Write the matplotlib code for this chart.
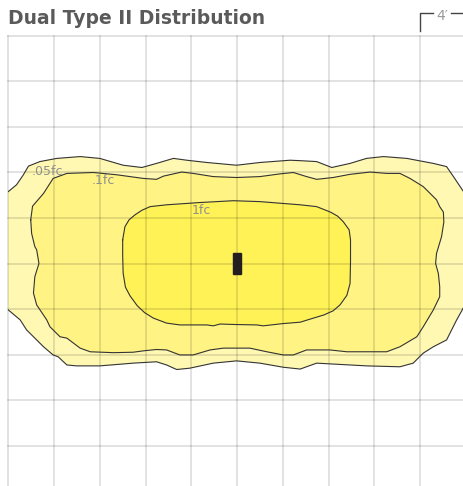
import matplotlib
matplotlib.use("Agg")
import matplotlib.pyplot as plt
from matplotlib.lines import Line2D
from matplotlib.patches import Rectangle

# contour outlines, in grid cells (1 cell = 4 ft), y measured downward from the top line
fc1_x = [2.50, 2.55, 2.64, 2.77, 2.92, 3.10, 3.46, 4.19, 4.92, 5.50, 6.38, 6.74, 7.04, 7.20,
         7.32, 7.45, 7.48, 7.48, 7.47, 7.40, 7.25, 7.10, 6.90, 6.67, 6.38, 6.01, 5.57, 5.43,
         4.92, 4.63, 4.48, 4.34, 3.75, 3.46, 3.17, 2.98, 2.82, 2.66, 2.56, 2.51, 2.50]
fc1_y = [4.48, 4.19, 4.04, 3.93, 3.83, 3.75, 3.71, 3.66, 3.62, 3.64, 3.71, 3.75, 3.87, 3.96,
         4.08, 4.26, 4.48, 4.97, 5.44, 5.70, 5.91, 6.04, 6.13, 6.20, 6.29, 6.32, 6.37, 6.35,
         6.34, 6.33, 6.37, 6.35, 6.35, 6.31, 6.20, 6.08, 5.93, 5.71, 5.52, 5.21, 4.81]

fc01_x = [0.49, 0.53, 0.77, 0.98, 1.28, 1.86, 2.37, 2.95, 3.24, 3.39, 3.79, 4.04, 4.48, 4.99,
          5.50, 5.94, 6.23, 6.52, 6.74, 7.10, 7.47, 7.91, 8.27, 8.56, 8.78, 9.07, 9.36, 9.43,
          9.51, 9.52, 9.47, 9.36, 9.34, 9.40, 9.43, 9.43, 9.29, 9.07, 8.93, 8.56, 8.27, 7.40,
          7.03, 6.52, 6.23, 6.01, 5.65, 5.28, 4.70, 4.41, 4.04, 3.75, 3.46, 3.24, 2.95, 2.73,
          2.30, 1.79, 1.57, 1.28, 1.13, 0.91, 0.84, 0.62, 0.55, 0.58, 0.67, 0.62, 0.58, 0.51]
fc01_y = [4.04, 3.74, 3.46, 3.13, 3.02, 3.00, 3.05, 3.13, 3.15, 3.08, 2.99, 3.02, 3.09, 3.11,
          3.09, 3.03, 3.00, 3.09, 3.15, 3.11, 3.04, 2.99, 3.02, 3.02, 3.13, 3.31, 3.60, 3.75,
          3.87, 4.09, 4.41, 4.78, 5.00, 5.22, 5.51, 5.73, 6.02, 6.39, 6.61, 6.83, 6.94, 6.94,
          6.90, 6.90, 7.01, 7.01, 6.94, 6.86, 6.86, 6.90, 7.01, 7.01, 6.90, 6.89, 6.92, 6.95,
          6.96, 6.94, 6.86, 6.64, 6.61, 6.39, 6.24, 5.91, 5.65, 5.29, 5.00, 4.70, 4.63, 4.34]

fc005_x = [-0.30, 0.00, 0.18, 0.33, 0.44, 0.69, 1.06, 1.57, 2.00, 2.51, 2.92, 3.24, 3.61, 3.90,
           4.34, 4.99, 5.50, 6.16, 6.38, 6.74, 7.07, 7.47, 7.83, 8.20, 8.71, 9.29, 9.58, 9.73,
           9.95, 10.30, 10.30, 9.96, 9.80, 9.58, 9.29, 9.07, 8.85, 8.56, 7.83, 7.10, 6.74, 6.38,
           6.01, 5.50, 4.99, 4.48, 3.97, 3.68, 3.46, 3.24, 2.73, 2.00, 1.49, 1.28, 1.09, 0.98,
           0.77, 0.55, 0.40, 0.26, 0.00, -0.30]
fc005_y = [3.55, 3.42, 3.27, 3.05, 2.86, 2.76, 2.69, 2.65, 2.69, 2.84, 2.89, 2.80, 2.69, 2.73,
           2.78, 2.84, 2.78, 2.73, 2.74, 2.76, 2.89, 2.80, 2.69, 2.65, 2.69, 2.80, 2.87, 3.09,
           3.42, 3.70, 5.80, 5.95, 6.24, 6.68, 6.83, 6.97, 7.19, 7.27, 7.25, 7.21, 7.19, 7.32,
           7.28, 7.19, 7.14, 7.19, 7.30, 7.33, 7.23, 7.16, 7.19, 7.25, 7.25, 7.23, 7.05, 7.01,
           6.83, 6.61, 6.46, 6.24, 6.02, 5.85]

levels = [".05fc", ".1fc", "1fc"]
label_x = [0.52, 1.82, 4.01]
label_y = [3.05, 3.25, 3.91]
fill_colors = ["#fff8b3", "#fff383", "#fff257"]

fixture_x, fixture_y = 5.0, 5.0
fixture_w, fixture_h = 0.16, 0.46

W, H = 464, 486
fig = plt.figure(figsize=(W / 100, H / 100), dpi=100)
ax = fig.add_axes([8.3 / W, 0, (W - 8.3) / W, 450 / H])
ax.set_xlim(0, (W - 8.3) / 45.75)
ax.set_ylim(450 / 45.5, 0)
ax.axis("off")

for xs, ys, c in zip([fc005_x, fc01_x, fc1_x], [fc005_y, fc01_y, fc1_y], fill_colors):
    ax.fill(xs, ys, color=c, zorder=1, lw=0)
    ax.plot(xs + xs[:1], ys + ys[:1], color="#333333", lw=0.8, zorder=3,
            solid_joinstyle="round")

for i in range(10):
    ax.axvline(i, color="black", alpha=0.15, lw=1.1, zorder=2, clip_on=False)
    ax.axhline(i, color="black", alpha=0.15, lw=1.1, zorder=2, clip_on=False)

for name, lx, ly in zip(levels, label_x, label_y):
    ax.text(lx, ly, name, fontsize=9, color="#8f8f8f", va="baseline", zorder=4)

ax.add_patch(Rectangle((fixture_x - fixture_w / 2, fixture_y - fixture_h / 2),
                       fixture_w, fixture_h, color="#231f20", zorder=5))

fig.text(8 / W, 1 - 23.5 / H, "Dual Type II Distribution", fontsize=13.5,
         fontweight="bold", color="#5a5a5a", va="baseline", family="DejaVu Sans")

# 4' scale bracket
def px(x, y):
    return x / W, 1 - y / H

bx, by = px(420, 31)
tx, ty = px(420, 12.7)
fig.add_artist(Line2D([bx, tx, px(433, 0)[0]], [by, ty, ty], color="#444444", lw=1))
fig.add_artist(Line2D([px(451.5, 0)[0], px(464, 0)[0]], [ty, ty], color="#444444", lw=1))
fig.text(442 / W, 1 - 19.5 / H, "4\u2032", fontsize=10, color="#9a9a9a", ha="center",
         va="baseline")

fig.savefig("out.png", dpi=100, facecolor="white")
